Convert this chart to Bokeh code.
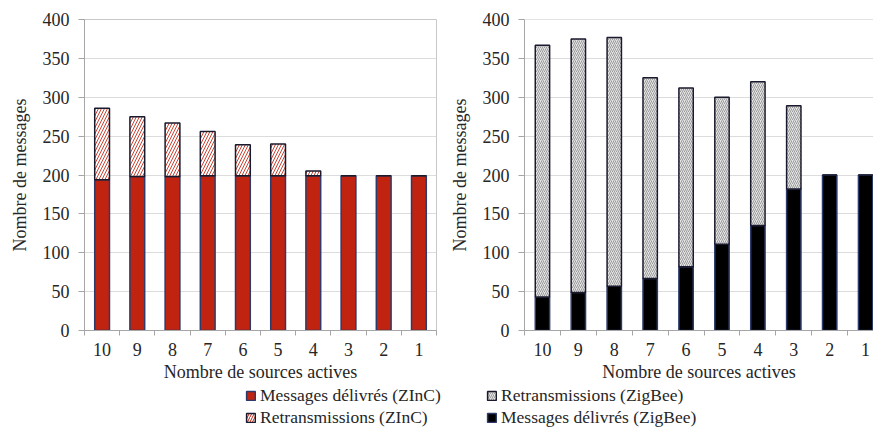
from bokeh.plotting import figure
from bokeh.models import (ColumnDataSource, FixedTicker, Span, Legend, LegendItem, Range1d)
from bokeh.layouts import column, row
from bokeh.embed import file_html
from bokeh.resources import INLINE

# ---- data ----
sources = ["10", "9", "8", "7", "6", "5", "4", "3", "2", "1"]
zinc_delivered = [194, 198, 198, 199, 199, 199, 199, 199, 199, 199]
zinc_retrans = [92, 77, 69, 57, 40, 41, 6, 0, 0, 0]
zigbee_delivered = [43, 49, 57, 67, 82, 111, 135, 182, 200, 200]
zigbee_retrans = [324, 326, 320, 258, 230, 189, 185, 107, 0, 0]
y_ticks = [0, 50, 100, 150, 200, 250, 300, 350, 400]

FONT = "Liberation Serif"
TXT = "#262626"
GRID = "#dcdcdc"
AXIS = "#a6a6a6"
RED = "#c0230f"
NAVY = "#2d3a6a"
DARK = "#1a1a2e"

xpos = [i + 0.5 for i in range(len(sources))]
labels = {x: s for x, s in zip(xpos, sources)}

CH_H = 386
TOP = 19
BOTTOM = 56


def style(p):
    p.xaxis.ticker = FixedTicker(ticks=xpos, minor_ticks=list(range(len(sources) + 1)))
    p.xaxis.major_label_overrides = labels
    p.yaxis.ticker = FixedTicker(ticks=y_ticks)
    for ax in (p.xaxis[0], p.yaxis[0]):
        ax.axis_line_color = AXIS
        ax.major_label_text_font = FONT
        ax.major_label_text_font_size = "18px"
        ax.major_label_text_color = TXT
        ax.axis_label_text_font = FONT
        ax.axis_label_text_font_size = "18px"
        ax.axis_label_text_font_style = "normal"
        ax.axis_label_text_color = TXT
    p.xaxis.major_tick_line_color = None
    p.xaxis.major_tick_in = 0
    p.xaxis.major_tick_out = 0
    p.xaxis.minor_tick_line_color = AXIS
    p.xaxis.minor_tick_in = 0
    p.xaxis.minor_tick_out = 5
    p.xaxis.major_label_standoff = 7
    p.xaxis.axis_label_standoff = 3
    p.yaxis.major_tick_line_color = AXIS
    p.yaxis.major_tick_in = 0
    p.yaxis.major_tick_out = 6
    p.yaxis.minor_tick_line_color = None
    p.yaxis.major_label_standoff = 9
    p.yaxis.axis_label_standoff = 10
    p.xgrid.grid_line_color = None
    p.ygrid.grid_line_color = GRID
    p.xaxis.axis_label = "Nombre de sources actives"
    p.yaxis.axis_label = "Nombre de messages"


# ---- left chart (ZInC) ----
src1 = ColumnDataSource(dict(x=xpos, delivered=zinc_delivered, retrans=zinc_retrans))
p1 = figure(width=440, height=CH_H, output_backend="svg", toolbar_location=None,
            x_range=Range1d(0, 10), y_range=Range1d(0, 400),
            min_border_left=84, min_border_right=4, min_border_top=TOP, min_border_bottom=BOTTOM)
style(p1)
p1.outline_line_color = "#c8c8c8"
p1.vbar_stack(["delivered", "retrans"], x="x", width=0.42, source=src1,
              fill_color=[RED, "white"], line_color=[NAVY, DARK], line_width=1.5,
              hatch_pattern=[" ", "/"], hatch_color=RED, hatch_alpha=[0, 0.85],
              hatch_scale=6, hatch_weight=1)

# ---- right chart (ZigBee) ----
src2 = ColumnDataSource(dict(x=xpos, delivered=zigbee_delivered, retrans=zigbee_retrans))
p2 = figure(width=433, height=CH_H, output_backend="svg", toolbar_location=None,
            x_range=Range1d(0, 9.72), y_range=Range1d(0, 400),
            min_border_left=84, min_border_right=0, min_border_top=TOP, min_border_bottom=BOTTOM)
style(p2)
p2.outline_line_color = None
p2.add_layout(Span(location=400, dimension="width", line_color="#c8c8c8", line_width=1))
p2.vbar_stack(["delivered", "retrans"], x="x", width=0.4, source=src2,
              fill_color=["black", "#e4e4e4"], line_color=[NAVY, DARK], line_width=1.5,
              hatch_pattern=[" ", "/"], hatch_color="#9a9a9a", hatch_alpha=[0, 1],
              hatch_scale=4, hatch_weight=1)

# ---- legend strip ----
p3 = figure(width=873, height=42, output_backend="svg", toolbar_location=None,
            x_range=Range1d(0, 1), y_range=Range1d(0, 1),
            min_border=0, min_border_left=0, min_border_right=0, min_border_top=0, min_border_bottom=0)
p3.axis.visible = False
p3.grid.visible = False
p3.outline_line_color = None


def dummy():
    return ColumnDataSource(dict(x=[0.5], top=[1]))


g1 = p3.vbar(x="x", top="top", width=0.1, source=dummy(),
             fill_color=RED, line_color=NAVY, line_width=1.5)
g2 = p3.vbar(x="x", top="top", width=0.1, source=dummy(),
             fill_color="white", line_color=DARK, line_width=1.5,
             hatch_pattern="/", hatch_color=RED, hatch_scale=5, hatch_weight=1)
g3 = p3.vbar(x="x", top="top", width=0.1, source=dummy(),
             fill_color="#e4e4e4", line_color=DARK, line_width=1.5,
             hatch_pattern="/", hatch_color="#9a9a9a", hatch_scale=4, hatch_weight=1)
g4 = p3.vbar(x="x", top="top", width=0.1, source=dummy(),
             fill_color="black", line_color=NAVY, line_width=1.5)
for g in (g1, g2, g3, g4):
    g.visible = False


def mk_legend(items, loc):
    lg = Legend(items=items, location=loc, orientation="vertical",
                label_text_font=FONT, label_text_font_size="17.5px", label_text_color=TXT,
                glyph_width=11, glyph_height=11, label_standoff=4, label_height=19,
                spacing=1, padding=0, margin=0, border_line_color=None,
                background_fill_alpha=0, inactive_fill_alpha=0)
    p3.add_layout(lg, "center")


mk_legend([LegendItem(label="Messages délivrés (ZInC)", renderers=[g1]),
           LegendItem(label="Retransmissions (ZInC)", renderers=[g2])], (245, 0))
mk_legend([LegendItem(label="Retransmissions (ZigBee)", renderers=[g3]),
           LegendItem(label="Messages délivrés (ZigBee)", renderers=[g4])], (486, 0))

layout = column(row(p1, p2), p3)
open("out.html", "w").write(file_html(layout, INLINE))
